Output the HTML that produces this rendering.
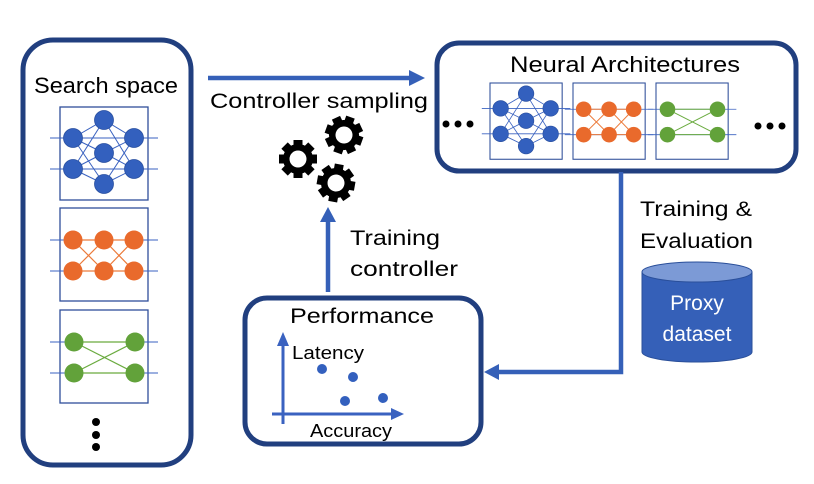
<!DOCTYPE html>
<html><head><meta charset="utf-8"><style>
html,body{margin:0;padding:0;background:#fff;}
svg{display:block;}
text{font-family:"Liberation Sans",sans-serif;fill:#000;}
</style></head><body>
<svg width="814" height="484" viewBox="0 0 814 484" xmlns="http://www.w3.org/2000/svg">
<defs>
<g id="blue">
  <rect x="0" y="0" width="88" height="93" fill="#fff" stroke="#2f4f9a" stroke-width="1.3"/>
  <g stroke="#3a62c0" stroke-width="1">
    <line x1="-10" y1="31" x2="98" y2="31"/><line x1="-10" y1="62" x2="98" y2="62"/>
    <line x1="13" y1="31" x2="44" y2="13"/><line x1="13" y1="31" x2="44" y2="46"/><line x1="13" y1="31" x2="44" y2="77"/>
    <line x1="13" y1="62" x2="44" y2="13"/><line x1="13" y1="62" x2="44" y2="46"/><line x1="13" y1="62" x2="44" y2="77"/>
    <line x1="74" y1="31" x2="44" y2="13"/><line x1="74" y1="31" x2="44" y2="46"/><line x1="74" y1="31" x2="44" y2="77"/>
    <line x1="74" y1="62" x2="44" y2="13"/><line x1="74" y1="62" x2="44" y2="46"/><line x1="74" y1="62" x2="44" y2="77"/>
  </g>
  <g fill="#3360be" stroke="#2a50a0" stroke-width="0.8">
    <circle cx="13" cy="31" r="9.5"/><circle cx="13" cy="62" r="9.5"/>
    <circle cx="44" cy="13" r="9.5"/><circle cx="44" cy="46" r="9.5"/><circle cx="44" cy="77" r="9.5"/>
    <circle cx="74" cy="31" r="9.5"/><circle cx="74" cy="62" r="9.5"/>
  </g>
</g>
<g id="orange">
  <rect x="0" y="0" width="88" height="93" fill="#fff" stroke="#2f4f9a" stroke-width="1.3"/>
  <g stroke="#3a62c0" stroke-width="1"><line x1="-10" y1="32" x2="98" y2="32"/><line x1="-10" y1="63" x2="98" y2="63"/></g>
  <g stroke="#ec7a3a" stroke-width="1.2">
    <line x1="13" y1="32" x2="74" y2="32"/><line x1="13" y1="63" x2="74" y2="63"/>
    <line x1="13" y1="32" x2="44" y2="63"/><line x1="13" y1="63" x2="44" y2="32"/>
    <line x1="44" y1="32" x2="74" y2="63"/><line x1="44" y1="63" x2="74" y2="32"/>
  </g>
  <g fill="#e96a2c">
    <circle cx="13" cy="32" r="9.5"/><circle cx="13" cy="63" r="9.5"/>
    <circle cx="44" cy="32" r="9.5"/><circle cx="44" cy="63" r="9.5"/>
    <circle cx="74" cy="32" r="9.5"/><circle cx="74" cy="63" r="9.5"/>
  </g>
</g>
<g id="green">
  <rect x="0" y="0" width="88" height="93" fill="#fff" stroke="#2f4f9a" stroke-width="1.3"/>
  <g stroke="#3a62c0" stroke-width="1"><line x1="-10" y1="32" x2="98" y2="32"/><line x1="-10" y1="63" x2="98" y2="63"/></g>
  <g stroke="#6aab3f" stroke-width="1.2">
    <line x1="14" y1="32" x2="75" y2="32"/><line x1="14" y1="63" x2="75" y2="63"/>
    <line x1="14" y1="32" x2="75" y2="63"/><line x1="14" y1="63" x2="75" y2="32"/>
  </g>
  <g fill="#62a23a">
    <circle cx="14" cy="32" r="9.5"/><circle cx="14" cy="63" r="9.5"/>
    <circle cx="75" cy="32" r="9.5"/><circle cx="75" cy="63" r="9.5"/>
  </g>
</g>
<g id="gear">
  <g fill="#000">
    <rect x="-4.5" y="-19" width="9" height="38"/>
    <rect x="-4.5" y="-19" width="9" height="38" transform="rotate(45)"/>
    <rect x="-4.5" y="-19" width="9" height="38" transform="rotate(90)"/>
    <rect x="-4.5" y="-19" width="9" height="38" transform="rotate(135)"/>
    <circle r="15"/>
  </g>
  <circle r="8.5" fill="#fff"/>
</g>
</defs>

<rect x="23" y="40" width="168" height="425" rx="30" fill="#fff" stroke="#213f7f" stroke-width="5"/>
<text x="106" y="93" font-size="22" text-anchor="middle" textLength="144" lengthAdjust="spacingAndGlyphs">Search space</text>
<use href="#blue" x="60" y="107"/>
<use href="#orange" x="60" y="208"/>
<use href="#green" x="60" y="310"/>
<circle cx="96" cy="422" r="4" fill="#000"/><circle cx="96" cy="435" r="4" fill="#000"/><circle cx="96" cy="447" r="4" fill="#000"/>

<line x1="208" y1="78" x2="412" y2="78" stroke="#3560b8" stroke-width="4.5"/>
<polygon points="425,78 409,70 409,86" fill="#3560b8"/>
<text x="210" y="108" font-size="21" textLength="218" lengthAdjust="spacingAndGlyphs">Controller sampling</text>

<rect x="437" y="43" width="359" height="128" rx="22" fill="#fff" stroke="#213f7f" stroke-width="5"/>
<text x="625" y="72" font-size="22" text-anchor="middle" textLength="230" lengthAdjust="spacingAndGlyphs">Neural Architectures</text>
<use href="#blue" transform="translate(490,83) scale(0.82)"/>
<use href="#orange" transform="translate(573,83) scale(0.82)"/>
<use href="#green" transform="translate(656,83) scale(0.82)"/>
<g fill="#000"><circle cx="446" cy="124" r="3.5"/><circle cx="458" cy="124" r="3.5"/><circle cx="470" cy="124" r="3.5"/>
<circle cx="758" cy="126" r="3.5"/><circle cx="770" cy="126" r="3.5"/><circle cx="782" cy="126" r="3.5"/></g>

<polyline points="621,172 621,372 497,372" fill="none" stroke="#3560b8" stroke-width="4.5"/>
<polygon points="484,372 499,364 499,380" fill="#3560b8"/>
<text x="640" y="216" font-size="21" textLength="112" lengthAdjust="spacingAndGlyphs">Training &amp;</text>
<text x="640" y="248" font-size="21" textLength="113" lengthAdjust="spacingAndGlyphs">Evaluation</text>

<path d="M642,272 L642,352 A55,10 0 0 0 752,352 L752,272" fill="#3560b8" stroke="#2a4f9a" stroke-width="1"/>
<ellipse cx="697" cy="272" rx="55" ry="10" fill="#7c9ad6" stroke="#2a4f9a" stroke-width="1"/>
<text x="697" y="310" font-size="21" text-anchor="middle" style="fill:#fff">Proxy</text>
<text x="697" y="341" font-size="21" text-anchor="middle" style="fill:#fff">dataset</text>

<rect x="245" y="298" width="236" height="146" rx="22" fill="#fff" stroke="#213f7f" stroke-width="5"/>
<text x="362" y="323" font-size="21" text-anchor="middle" textLength="144" lengthAdjust="spacingAndGlyphs">Performance</text>
<line x1="283" y1="424" x2="283" y2="345" stroke="#3a62c0" stroke-width="3"/>
<polygon points="283,332 277,346 289,346" fill="#3a62c0"/>
<line x1="272" y1="414" x2="392" y2="414" stroke="#3a62c0" stroke-width="3"/>
<polygon points="404,414 391,408 391,420" fill="#3a62c0"/>
<text x="292" y="359" font-size="18" textLength="72" lengthAdjust="spacingAndGlyphs">Latency</text>
<text x="310" y="437" font-size="18" textLength="82" lengthAdjust="spacingAndGlyphs">Accuracy</text>
<g fill="#3360be"><circle cx="322" cy="369" r="5"/><circle cx="353" cy="377" r="5"/><circle cx="345" cy="401" r="5"/><circle cx="383" cy="398" r="5"/></g>

<line x1="328" y1="292" x2="328" y2="220" stroke="#3560b8" stroke-width="4.5"/>
<polygon points="328,207 320,222 336,222" fill="#3560b8"/>
<text x="350" y="245" font-size="21" textLength="90" lengthAdjust="spacingAndGlyphs">Training</text>
<text x="350" y="276" font-size="21" textLength="108" lengthAdjust="spacingAndGlyphs">controller</text>

<use href="#gear" x="298" y="159"/>
<use href="#gear" transform="translate(344,135) rotate(20)"/>
<use href="#gear" transform="translate(336,183) rotate(10)"/>
</svg>
</body></html>
